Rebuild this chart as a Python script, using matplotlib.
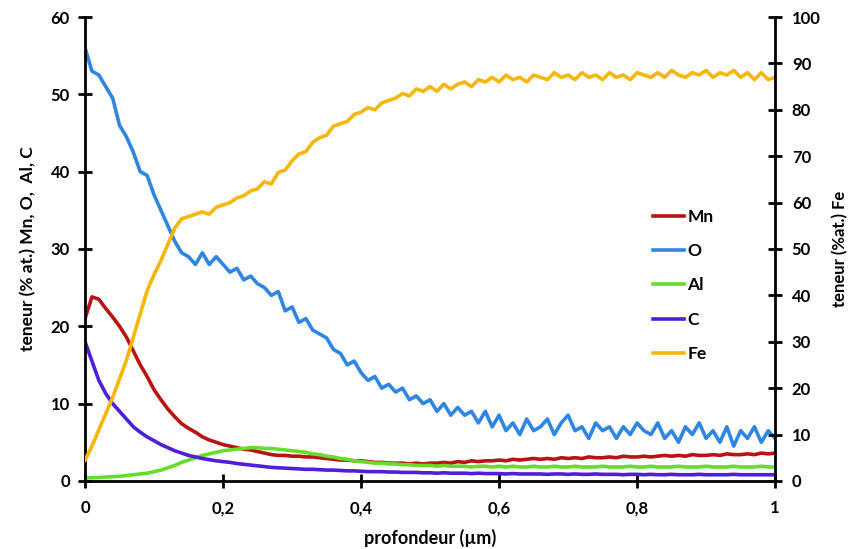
import numpy as np
import matplotlib
matplotlib.use('Agg')
import matplotlib.pyplot as plt
from matplotlib.ticker import FuncFormatter

plt.rcParams['font.family'] = ['Lato', 'DejaVu Sans']
plt.rcParams['font.weight'] = 'bold'

# depth (µm), step 0.01
depth = [i / 100 for i in range(101)]

o = [56, 53, 52.5, 51, 49.5, 46, 44.5, 42.5, 40, 39.5,
     37, 35, 33, 31, 29.5, 29, 28, 29.5, 28, 29,
     28, 27, 27.5, 26, 26.5, 25.5, 25, 24, 24.5, 22,
     22.5, 20.5, 21, 19.5, 19, 18.5, 17, 16.5, 15, 15.5,
     14, 13, 13.5, 12, 12.5, 11.5, 12, 10.5, 11, 10,
     10.5, 9, 10, 8.5, 9.5, 8.5, 9, 7.5, 9, 7,
     8.5, 6.5, 7.5, 6, 8, 6.5, 7, 8, 6, 7.5,
     8.5, 6.5, 7, 5.5, 7.5, 6.5, 7, 5.5, 7, 6,
     7.5, 6.5, 6, 7.5, 5.5, 6.5, 5, 7, 6, 7.5,
     5.5, 6.5, 5, 7, 4.5, 6.5, 5.5, 7, 5, 6.5,
     5.5]

fe = [4.5, 7.5, 11, 14.5, 18, 22, 26, 31, 36, 41,
      44.5, 47.5, 51, 54.5, 56.5, 57, 57.5, 58, 57.5, 59,
      59.5, 60, 61, 61.5, 62.5, 63, 64.5, 64, 66.5, 67,
      69, 70.5, 71, 73, 74, 74.5, 76.5, 77, 77.5, 79,
      79.5, 80.5, 80, 81.5, 82, 82.5, 83.5, 83, 84.5, 84,
      85, 84, 85.5, 84.5, 85.5, 86, 85, 86.5, 86, 87,
      86, 87.5, 86.5, 87, 86, 87.5, 87, 86.5, 88, 87,
      87.5, 86.5, 88, 87, 87.5, 86.5, 88, 87, 87.5, 86.5,
      88, 87.5, 87, 88, 87, 88.5, 87.5, 87, 88, 87.5,
      88.5, 87, 88, 87.5, 88.5, 87, 88, 86.5, 88, 86.5,
      87]

mn = [21, 23.8, 23.5, 22.3, 21.2, 20, 18.6, 16.8, 15, 13.5,
      11.8, 10.5, 9.3, 8.3, 7.4, 6.8, 6.3, 5.7, 5.3, 5.0,
      4.7, 4.5, 4.3, 4.1, 4.0, 3.8, 3.6, 3.4, 3.3, 3.3,
      3.2, 3.2, 3.1, 3.1, 3.0, 2.9, 2.8, 2.7, 2.7, 2.6,
      2.6, 2.5, 2.4, 2.4, 2.3, 2.3, 2.3, 2.2, 2.3, 2.2,
      2.3, 2.3, 2.4, 2.3, 2.5, 2.4, 2.6, 2.5, 2.6, 2.6,
      2.7, 2.6, 2.8, 2.7, 2.8, 2.9, 2.8, 2.9, 2.8, 3.0,
      2.9, 3.0, 2.9, 3.1, 3.0, 3.0, 3.1, 3.0, 3.2, 3.1,
      3.1, 3.2, 3.1, 3.2, 3.3, 3.2, 3.3, 3.2, 3.4, 3.3,
      3.3, 3.4, 3.3, 3.5, 3.4, 3.4, 3.5, 3.4, 3.6, 3.5,
      3.6]

al = [0.4, 0.4, 0.45, 0.5, 0.55, 0.6, 0.7, 0.8, 0.9, 1.0,
      1.2, 1.4, 1.7, 2.0, 2.4, 2.7, 3.0, 3.3, 3.5, 3.7,
      3.9, 4.0, 4.1, 4.2, 4.3, 4.3, 4.2, 4.2, 4.1, 4.0,
      3.9, 3.8, 3.7, 3.5, 3.4, 3.2, 3.1, 2.9, 2.8, 2.6,
      2.5, 2.4, 2.3, 2.3, 2.2, 2.2, 2.1, 2.1, 2.0, 2.0,
      2.0, 1.9, 2.0, 1.9, 1.9, 1.9, 1.8, 1.9, 1.9, 1.8,
      1.9, 1.8, 1.9, 1.8, 1.8, 1.9, 1.8, 1.8, 1.9, 1.8,
      1.8, 1.9, 1.8, 1.8, 1.8, 1.9, 1.8, 1.8, 1.8, 1.9,
      1.8, 1.8, 1.9, 1.8, 1.8, 1.8, 1.9, 1.8, 1.8, 1.8,
      1.9, 1.8, 1.8, 1.8, 1.9, 1.8, 1.8, 1.8, 1.9, 1.8,
      1.8]

c = [18, 15.5, 13, 11.3, 10, 9, 8, 7, 6.3, 5.7,
     5.2, 4.7, 4.3, 3.9, 3.6, 3.3, 3.1, 2.9, 2.75, 2.6,
     2.5, 2.4, 2.25, 2.15, 2.05, 1.95, 1.85, 1.75, 1.7, 1.65,
     1.6, 1.55, 1.5, 1.5, 1.45, 1.4, 1.4, 1.35, 1.3, 1.3,
     1.25, 1.2, 1.2, 1.2, 1.15, 1.15, 1.1, 1.1, 1.1, 1.05,
     1.05, 1.0, 1.05, 1.0, 1.0, 1.0, 0.95, 1.0, 0.95, 0.95,
     0.95, 0.9, 0.95, 0.9, 0.9, 0.9, 0.9, 0.85, 0.9, 0.9,
     0.85, 0.9, 0.85, 0.85, 0.9, 0.85, 0.85, 0.85, 0.8, 0.85,
     0.85, 0.8, 0.85, 0.8, 0.8, 0.85, 0.8, 0.8, 0.8, 0.85,
     0.8, 0.8, 0.8, 0.8, 0.85, 0.8, 0.8, 0.8, 0.8, 0.8,
     0.8]

fig = plt.figure(figsize=(8.53, 5.49), dpi=100)
ax = fig.add_axes([0.0997, 0.124, 0.809, 0.845])
ax2 = ax.twinx()

lw = 2.6
l_mn, = ax.plot(depth, mn, color='#b81414', lw=lw, label='Mn')
l_o, = ax.plot(depth, o, color='#2f86e0', lw=lw, label='O')
l_al, = ax.plot(depth, al, color='#66dd2a', lw=lw, label='Al')
l_c, = ax.plot(depth, c, color='#4f1fd8', lw=lw, label='C')
l_fe, = ax2.plot(depth, fe, color='#f5b70f', lw=lw, label='Fe')

ax.set_xlim(0, 1)
ax.set_ylim(0, 60)
ax2.set_ylim(0, 100)
ax.set_xticks([0, 0.2, 0.4, 0.6, 0.8, 1])
ax.set_yticks(range(0, 61, 10))
ax2.set_yticks(range(0, 101, 10))
ax.xaxis.set_major_formatter(FuncFormatter(lambda v, p: ('%g' % v).replace('.', ',')))

for a in (ax, ax2):
    a.spines['top'].set_visible(False)
    for s in a.spines.values():
        s.set_linewidth(2)
    a.tick_params(direction='inout', length=10, width=2, labelsize=12)
ax.spines['right'].set_visible(False)
ax2.spines['left'].set_visible(False)
ax2.spines['bottom'].set_visible(False)
ax.tick_params(axis='x', pad=9)
ax.tick_params(axis='y', pad=6)
ax2.tick_params(axis='y', pad=7)

ax.set_xlabel('profondeur (µm)', fontsize=13, fontweight='bold', labelpad=9)
ax.set_ylabel('teneur (% at.) Mn, O,  Al, C', fontsize=12.5, fontweight='bold', labelpad=10)
ax2.set_ylabel('teneur (%at.) Fe', fontsize=12, fontweight='bold', labelpad=8)

ax2.legend(handles=[l_mn, l_o, l_al, l_c, l_fe], loc='upper left',
           bbox_to_anchor=(0.80, 0.62), frameon=False, fontsize=12.5,
           handlelength=1.8, handletextpad=0.2, labelspacing=1.05)

fig.savefig('out.png', dpi=100)
